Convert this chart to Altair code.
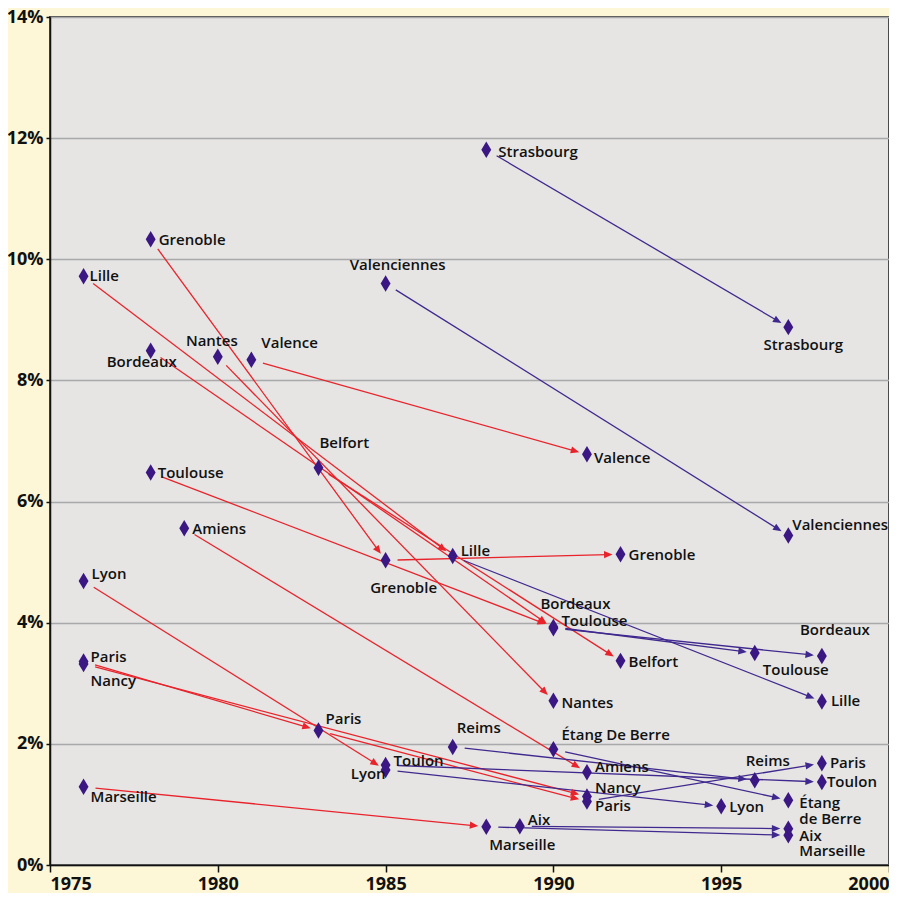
import math
import altair as alt
import pandas as pd

# ---------------- data ----------------
# (key, city, year, percent)
NODES = [
    ("Lille76", "Lille", 1976, 9.72),
    ("Grenoble78", "Grenoble", 1978, 10.33),
    ("Bordeaux78", "Bordeaux", 1978, 8.49),
    ("Nantes80", "Nantes", 1980, 8.39),
    ("Valence81", "Valence", 1981, 8.34),
    ("Belfort83", "Belfort", 1983, 6.56),
    ("Toulouse78", "Toulouse", 1978, 6.48),
    ("Amiens79", "Amiens", 1979, 5.56),
    ("Lyon76", "Lyon", 1976, 4.69),
    ("Paris76", "Paris", 1976, 3.36),
    ("Nancy76", "Nancy", 1976, 3.32),
    ("Marseille76", "Marseille", 1976, 1.29),
    ("Strasbourg88", "Strasbourg", 1988, 11.81),
    ("Valenciennes85", "Valenciennes", 1985, 9.60),
    ("Lille87", "Lille", 1987, 5.10),
    ("Grenoble85", "Grenoble", 1985, 5.03),
    ("Valence91", "Valence", 1991, 6.78),
    ("Grenoble92", "Grenoble", 1992, 5.13),
    ("Bordeaux90", "Bordeaux", 1990, 3.91),
    ("Toulouse90", "Toulouse", 1990, 3.93),
    ("Belfort92", "Belfort", 1992, 3.37),
    ("Nantes90", "Nantes", 1990, 2.71),
    ("Paris83", "Paris", 1983, 2.22),
    ("Lyon85", "Lyon", 1985, 1.57),
    ("Toulon85", "Toulon", 1985, 1.65),
    ("Reims87", "Reims", 1987, 1.95),
    ("Etang90", "Étang De Berre", 1990, 1.91),
    ("Amiens91", "Amiens", 1991, 1.53),
    ("Nancy91", "Nancy", 1991, 1.13),
    ("Paris91", "Paris", 1991, 1.05),
    ("Marseille88", "Marseille", 1988, 0.63),
    ("Aix89", "Aix", 1989, 0.64),
    ("Strasbourg97", "Strasbourg", 1997, 8.88),
    ("Valenciennes97", "Valenciennes", 1997, 5.44),
    ("Bordeaux98", "Bordeaux", 1998, 3.45),
    ("Toulouse96", "Toulouse", 1996, 3.50),
    ("Lille98", "Lille", 1998, 2.70),
    ("Reims96", "Reims", 1996, 1.40),
    ("Paris98", "Paris", 1998, 1.68),
    ("Toulon98", "Toulon", 1998, 1.37),
    ("Lyon95", "Lyon", 1995, 0.97),
    ("Etang97", "Étang de Berre", 1997, 1.07),
    ("Aix97", "Aix", 1997, 0.60),
    ("Marseille97", "Marseille", 1997, 0.49),
]

RED_ARROWS = [
    ("Lille76", "Lille87"), ("Grenoble78", "Grenoble85"), ("Bordeaux78", "Bordeaux90"),
    ("Nantes80", "Nantes90"), ("Valence81", "Valence91"), ("Belfort83", "Belfort92"),
    ("Toulouse78", "Toulouse90"), ("Amiens79", "Amiens91"), ("Lyon76", "Lyon85"),
    ("Paris76", "Paris83"), ("Nancy76", "Nancy91"), ("Paris83", "Paris91"),
    ("Marseille76", "Marseille88"), ("Grenoble85", "Grenoble92"),
]

BLUE_ARROWS = [
    ("Strasbourg88", "Strasbourg97"), ("Valenciennes85", "Valenciennes97"),
    ("Lille87", "Lille98"), ("Bordeaux90", "Bordeaux98"), ("Toulouse90", "Toulouse96"),
    ("Reims87", "Reims96"), ("Etang90", "Etang97"), ("Paris91", "Paris98"),
    ("Lyon85", "Lyon95"), ("Toulon85", "Toulon98"), ("Marseille88", "Marseille97"),
    ("Aix89", "Aix97"),
]

# label placement: (node key, text, dx px, dy px, align)
LABELS = [
    ("Lille76", "Lille", 6, 0, "left"),
    ("Grenoble78", "Grenoble", 8, 1, "left"),
    ("Bordeaux78", "Bordeaux", -44, 11, "left"),
    ("Nantes80", "Nantes", -6, -16, "center"),
    ("Valence81", "Valence", 10, -17, "left"),
    ("Belfort83", "Belfort", 1, -25, "left"),
    ("Toulouse78", "Toulouse", 7, 1, "left"),
    ("Amiens79", "Amiens", 8, 1, "left"),
    ("Lyon76", "Lyon", 8, -7, "left"),
    ("Paris76", "Paris", 7, -4, "left"),
    ("Nancy76", "Nancy", 7, 17, "left"),
    ("Marseille76", "Marseille", 7, 10, "left"),
    ("Strasbourg88", "Strasbourg", 12, 2, "left"),
    ("Valenciennes85", "Valenciennes", 12, -19, "center"),
    ("Lille87", "Lille", 8, -5, "left"),
    ("Grenoble85", "Grenoble", 18, 28, "center"),
    ("Valence91", "Valence", 7, 4, "left"),
    ("Grenoble92", "Grenoble", 8, 1, "left"),
    ("Bordeaux90", "Bordeaux", -13, -24, "left"),
    ("Toulouse90", "Toulouse", 8, -6, "left"),
    ("Belfort92", "Belfort", 8, 1, "left"),
    ("Nantes90", "Nantes", 8, 2, "left"),
    ("Paris83", "Paris", 7, -12, "left"),
    ("Lyon85", "Lyon", 0, 4, "right"),
    ("Toulon85", "Toulon", 8, -4, "left"),
    ("Reims87", "Reims", 4, -19, "left"),
    ("Etang90", "Étang De Berre", 8, -14, "left"),
    ("Amiens91", "Amiens", 8, -5, "left"),
    ("Nancy91", "Nancy", 8, -9, "left"),
    ("Paris91", "Paris", 8, 5, "left"),
    ("Marseille88", "Marseille", 3, 18, "left"),
    ("Aix89", "Aix", 8, -6, "left"),
    ("Strasbourg97", "Strasbourg", 15, 18, "center"),
    ("Valenciennes97", "Valenciennes", 4, -10, "left"),
    ("Bordeaux98", "Bordeaux", 13, -26, "center"),
    ("Toulouse96", "Toulouse", 8, 17, "left"),
    ("Lille98", "Lille", 9, 0, "left"),
    ("Reims96", "Reims", -9, -19, "left"),
    ("Paris98", "Paris", 8, 0, "left"),
    ("Toulon98", "Toulon", 5, 0, "left"),
    ("Lyon95", "Lyon", 8, 1, "left"),
    ("Etang97", "Étang", 11, 3, "left"),
    ("Etang97", "de Berre", 11, 19, "left"),
    ("Aix97", "Aix", 11, 7, "left"),
    ("Marseille97", "Marseille", 11, 16, "left"),
]

X_TICKS = [1975, 1980, 1985, 1990, 1995, 2000]
Y_TICKS = [0, 2, 4, 6, 8, 10, 12, 14]

# ---------------- layout / style ----------------
W, H = 839, 848
XD = [1975, 2000]
YD = [0, 14]
SX = W / (XD[1] - XD[0])
SY = H / (YD[1] - YD[0])
GAP_START, GAP_END, LINE_BACK = 12, 8, 5

RED = "#e8232b"
BLUE = "#40298e"
DIAMOND = "#3b1784"
FONT = "Open Sans"

node = {k: (c, y, p) for k, c, y, p in NODES}
pts = pd.DataFrame([{"key": k, "city": c, "year": y, "pct": p} for k, c, y, p in NODES])

segs = []
for group, arrows in (("red", RED_ARROWS), ("blue", BLUE_ARROWS)):
    for a, b in arrows:
        _, xa, ya = node[a]
        _, xb, yb = node[b]
        px, py = (xb - xa) * SX, (yb - ya) * SY
        L = math.hypot(px, py)
        ux, uy = px / L, py / L
        segs.append({
            "group": group,
            "x1": xa + GAP_START * ux / SX, "y1": ya + GAP_START * uy / SY,
            "xl": xb - (GAP_END + LINE_BACK) * ux / SX, "yl": yb - (GAP_END + LINE_BACK) * uy / SY,
            "xt": xb - GAP_END * ux / SX, "yt": yb - GAP_END * uy / SY,
            "ang": math.degrees(math.atan2(-py, px)) % 360,
        })
segs = pd.DataFrame(segs)

labs = []
for k, t, dx, dy, al in LABELS:
    _, x, y = node[k]
    labs.append({"text": t, "lx": x + dx / SX, "ly": y - dy / SY, "align": al})
labs = pd.DataFrame(labs)

xscale = alt.Scale(domain=XD, nice=False, zero=False)
yscale = alt.Scale(domain=YD, nice=False, zero=False)
xaxis = alt.Axis(values=X_TICKS, format="d", tickSize=7, labelPadding=3, grid=False,
                 labelFlush=True, title=None)
yaxis = alt.Axis(values=Y_TICKS, labelExpr="datum.value + '%'", tickSize=4, labelPadding=3,
                 grid=True, gridColor="#a9a9a9", gridWidth=1.5, title=None)


def X(f):
    return alt.X(f"{f}:Q", scale=xscale, axis=xaxis)


def Y(f):
    return alt.Y(f"{f}:Q", scale=yscale, axis=yaxis)


color = alt.Color("group:N", scale=alt.Scale(domain=["red", "blue"], range=[RED, BLUE]), legend=None)

lines = alt.Chart(segs).mark_rule(strokeWidth=1.3).encode(
    x=X("x1"), y=Y("y1"), x2="xl:Q", y2="yl:Q", color=color)

ARROW_PATH = "M0,0L-2,-0.85L-2,0.85Z"
heads = alt.Chart(segs).mark_point(shape=ARROW_PATH, filled=True, size=72, opacity=1,
                                   strokeWidth=0).encode(
    x=X("xt"), y=Y("yt"), angle=alt.Angle("ang:Q", scale=None), color=color)

DIAMOND_PATH = "M0,-1L0.6,0L0,1L-0.6,0Z"
diamonds = alt.Chart(pts).mark_point(shape=DIAMOND_PATH, filled=True, size=272, opacity=1,
                                     color=DIAMOND, strokeWidth=0).encode(
    x=X("year"), y=Y("pct"))

text_layers = []
for al in ("left", "center", "right"):
    text_layers.append(
        alt.Chart(labs).transform_filter(alt.datum.align == al).mark_text(
            align=al, baseline="middle", font=FONT, fontSize=15, fontWeight=600,
            color="#111111").encode(x=X("lx"), y=Y("ly"), text="text:N"))

chart = alt.layer(lines, heads, diamonds, *text_layers).properties(
    width=W, height=H,
    background="#fdf7d7",
    padding={"left": 42, "top": 9, "right": 0, "bottom": 28},
    autosize=alt.AutoSizeParams(type="none"),
).configure_view(
    fill="#e6e5e4", stroke="#4a4a4a", strokeWidth=2
).configure_axis(
    labelFont=FONT, labelFontWeight="bold", labelFontSize=18, labelColor="#111111",
    domainColor="#111111", domainWidth=1.5, tickColor="#111111", tickWidth=1.5,
)

chart.save("out.html", embed_options={"renderer": "svg", "actions": False})
